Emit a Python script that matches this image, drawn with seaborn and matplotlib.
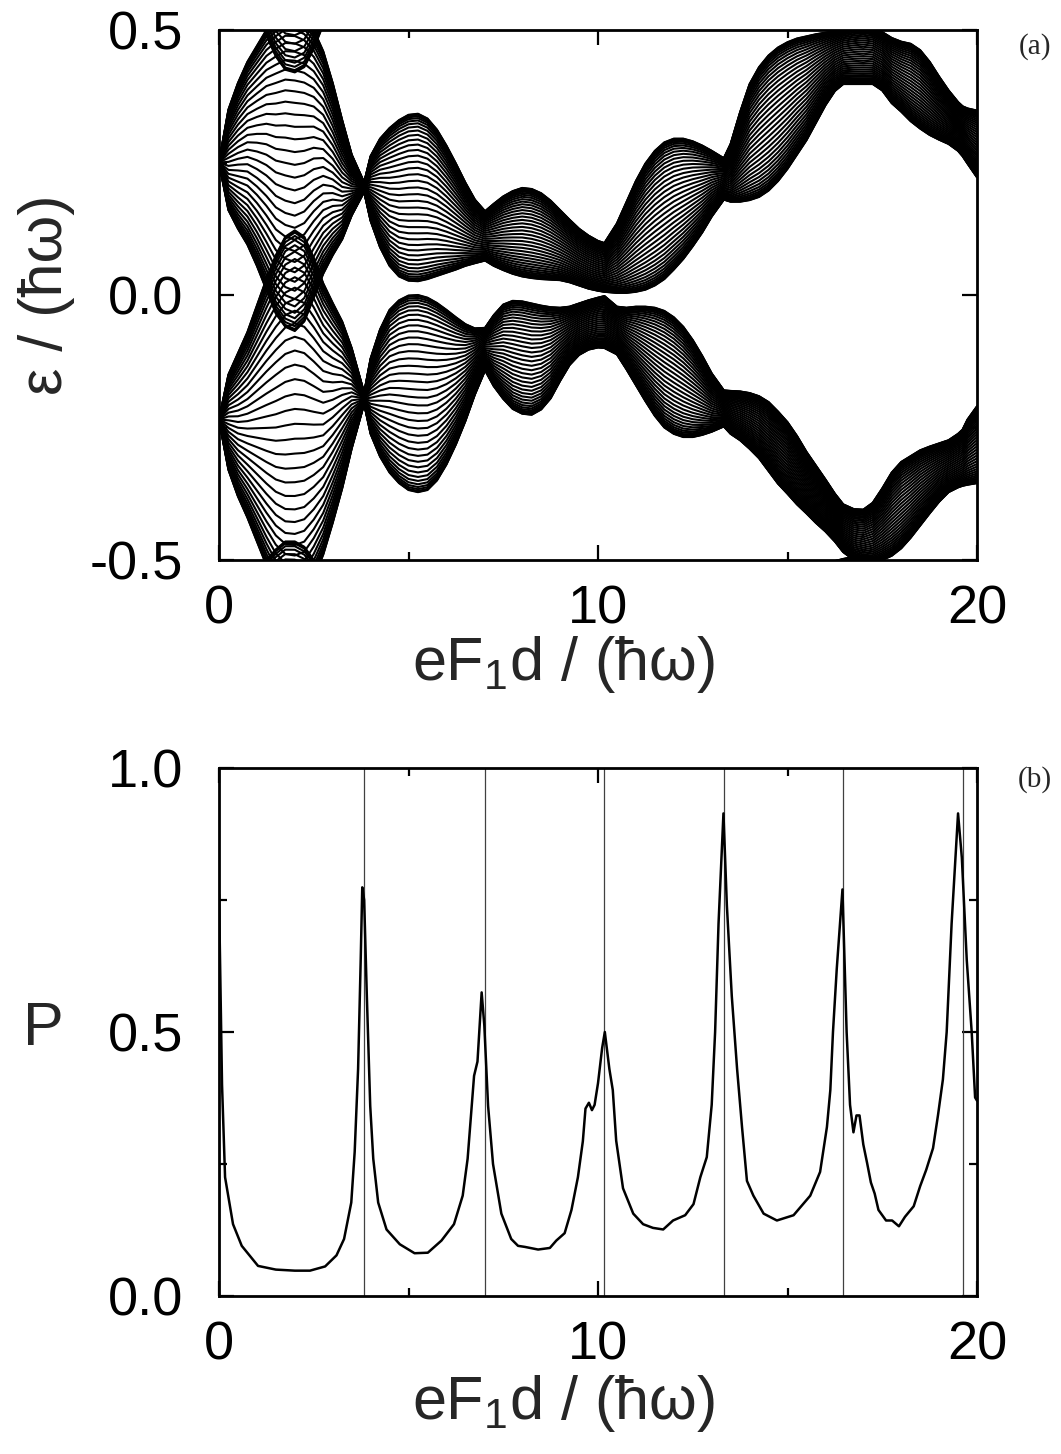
import numpy as np
import pandas as pd
import matplotlib
matplotlib.use("Agg")
import matplotlib.pyplot as plt
import seaborn as sns
from matplotlib.ticker import MultipleLocator, FormatStrFormatter

# ---------------- data ----------------
# common x grid of the quasienergy band edges, eF1d/(hbar omega)
x_grid = [0.0, 0.25, 0.5, 0.75, 1.0, 1.25, 1.5, 1.75, 2.0, 2.25, 2.5, 2.75, 3.0, 3.25, 3.5, 3.83,
          4.0, 4.25, 4.5, 4.75, 5.0, 5.25, 5.5, 5.75, 6.0, 6.25, 6.5, 6.75, 7.02,
          7.25, 7.5, 7.75, 8.0, 8.25, 8.5, 8.75, 9.0, 9.25, 9.5, 9.75, 10.0, 10.17,
          10.5, 10.75, 11.0, 11.25, 11.5, 11.75, 12.0, 12.25, 12.5, 12.75, 13.0, 13.32,
          13.5, 13.75, 14.0, 14.25, 14.5, 14.75, 15.0, 15.25, 15.5, 15.75, 16.0, 16.25, 16.47,
          16.75, 17.0, 17.25, 17.5, 17.75, 18.0, 18.25, 18.5, 18.75, 19.0, 19.25, 19.5, 19.62, 19.75, 20.0]

# upper quasienergy band: top and bottom edge (values beyond +-0.5 fold back)
upper_top = [0.250, 0.350, 0.400, 0.440, 0.470, 0.500, 0.520, 0.535, 0.535, 0.525, 0.500, 0.460, 0.400, 0.330, 0.265, 0.212,
             0.262, 0.295, 0.315, 0.330, 0.340, 0.342, 0.333, 0.312, 0.282, 0.248, 0.212, 0.180, 0.158,
             0.172, 0.186, 0.196, 0.202, 0.200, 0.192, 0.178, 0.160, 0.142, 0.125, 0.112, 0.102, 0.098,
             0.135, 0.175, 0.215, 0.248, 0.272, 0.288, 0.295, 0.295, 0.290, 0.282, 0.272, 0.258,
             0.285, 0.345, 0.398, 0.430, 0.452, 0.467, 0.477, 0.484, 0.488, 0.492, 0.495, 0.498, 0.502,
             0.506, 0.508, 0.505, 0.496, 0.485, 0.478, 0.474, 0.462, 0.440, 0.412, 0.386, 0.364, 0.356, 0.352, 0.348]
upper_bot = [0.250, 0.160, 0.125, 0.095, 0.055, 0.010, -0.035, -0.060, -0.068, -0.050, -0.005, 0.040, 0.075, 0.105, 0.150, 0.195,
             0.140, 0.090, 0.055, 0.035, 0.027, 0.026, 0.030, 0.036, 0.042, 0.048, 0.055, 0.060, 0.065,
             0.055, 0.047, 0.040, 0.035, 0.032, 0.030, 0.029, 0.028, 0.024, 0.018, 0.012, 0.008, 0.006,
             0.004, 0.004, 0.006, 0.010, 0.018, 0.030, 0.048, 0.068, 0.092, 0.118, 0.148, 0.180,
             0.176, 0.176, 0.179, 0.185, 0.197, 0.215, 0.238, 0.265, 0.292, 0.325, 0.358, 0.385, 0.398,
             0.398, 0.398, 0.398, 0.386, 0.362, 0.346, 0.328, 0.314, 0.302, 0.293, 0.285, 0.272, 0.262, 0.248, 0.222]
# lower quasienergy band: top and bottom edge
lower_top = [-0.235, -0.150, -0.110, -0.070, -0.020, 0.030, 0.075, 0.110, 0.122, 0.110, 0.070, 0.022, -0.015, -0.050, -0.100, -0.185,
             -0.120, -0.065, -0.028, -0.010, -0.001, 0.000, -0.005, -0.015, -0.028, -0.042, -0.055, -0.063, -0.062,
             -0.038, -0.018, -0.011, -0.012, -0.016, -0.020, -0.023, -0.024, -0.022, -0.016, -0.010, -0.005, -0.002,
             -0.022, -0.024, -0.022, -0.022, -0.024, -0.030, -0.042, -0.060, -0.085, -0.115, -0.148, -0.180,
             -0.181, -0.182, -0.185, -0.191, -0.202, -0.220, -0.240, -0.266, -0.296, -0.322, -0.348, -0.375, -0.395,
             -0.404, -0.405, -0.392, -0.365, -0.335, -0.315, -0.304, -0.293, -0.286, -0.280, -0.274, -0.262, -0.254, -0.235, -0.210]
lower_bot = [-0.235, -0.330, -0.380, -0.420, -0.465, -0.510, -0.550, -0.575, -0.580, -0.570, -0.535, -0.490, -0.430, -0.365, -0.290, -0.205,
             -0.262, -0.305, -0.335, -0.355, -0.368, -0.372, -0.368, -0.350, -0.320, -0.282, -0.238, -0.188, -0.142,
             -0.172, -0.196, -0.215, -0.224, -0.226, -0.216, -0.195, -0.162, -0.132, -0.113, -0.103, -0.099, -0.100,
             -0.112, -0.140, -0.170, -0.200, -0.228, -0.250, -0.262, -0.268, -0.268, -0.264, -0.258, -0.248,
             -0.262, -0.274, -0.290, -0.308, -0.332, -0.356, -0.375, -0.395, -0.412, -0.430, -0.446, -0.465, -0.485,
             -0.500, -0.505, -0.505, -0.500, -0.492, -0.478, -0.458, -0.435, -0.412, -0.390, -0.372, -0.363, -0.360, -0.358, -0.355]
# relative position of each drawn level inside its band (edges crowd together)
level_fractions = [0.0, 0.002, 0.006, 0.015, 0.026, 0.040, 0.057, 0.077, 0.100, 0.126, 0.154, 0.184,
                   0.216, 0.250, 0.286, 0.323, 0.361, 0.400, 0.440, 0.480, 0.520, 0.560, 0.600, 0.639,
                   0.677, 0.714, 0.750, 0.784, 0.816, 0.846, 0.874, 0.900, 0.923, 0.943, 0.960, 0.974,
                   0.985, 0.994, 0.998, 1.0]

# panel (b): P versus eF1d/(hbar omega)
p_x = [0.0, 0.08, 0.16, 0.37, 0.6, 1.03, 1.5, 2.0, 2.4, 2.8, 3.1, 3.3, 3.49, 3.58, 3.67, 3.74, 3.78, 3.83,
       3.9, 3.99, 4.07, 4.2, 4.42, 4.77, 5.16, 5.51, 5.87, 6.2, 6.43, 6.56, 6.73, 6.82, 6.93, 7.0,
       7.1, 7.23, 7.45, 7.71, 7.89, 8.07, 8.42, 8.73, 8.9, 9.12, 9.3, 9.47, 9.6, 9.67, 9.76, 9.84,
       9.91, 10.0, 10.11, 10.18, 10.3, 10.39, 10.48, 10.66, 10.93, 11.19, 11.45, 11.72, 11.98, 12.3,
       12.52, 12.7, 12.87, 13.0, 13.09, 13.18, 13.31, 13.4, 13.53, 13.67, 13.8, 13.93, 14.1, 14.37,
       14.72, 15.16, 15.6, 15.86, 16.04, 16.13, 16.2, 16.3, 16.45, 16.56, 16.65, 16.74, 16.82, 16.9,
       17.0, 17.1, 17.2, 17.3, 17.4, 17.6, 17.76, 17.94, 18.1, 18.33, 18.5, 18.66, 18.84, 18.97,
       19.1, 19.2, 19.33, 19.5, 19.6, 19.73, 19.86, 19.95, 20.0]
p_val = [0.76, 0.40, 0.225, 0.136, 0.095, 0.057, 0.050, 0.048, 0.048, 0.056, 0.077, 0.108, 0.177, 0.273, 0.43, 0.64, 0.774, 0.75,
         0.57, 0.36, 0.26, 0.177, 0.126, 0.098, 0.081, 0.082, 0.105, 0.136, 0.19, 0.26, 0.417, 0.444, 0.575, 0.513,
         0.36, 0.25, 0.156, 0.108, 0.095, 0.093, 0.088, 0.091, 0.105, 0.119, 0.163, 0.225, 0.293, 0.355, 0.366, 0.352,
         0.362, 0.403, 0.47, 0.50, 0.43, 0.39, 0.294, 0.204, 0.156, 0.136, 0.129, 0.126, 0.143, 0.153,
         0.174, 0.225, 0.263, 0.362, 0.50, 0.705, 0.914, 0.74, 0.568, 0.43, 0.32, 0.218, 0.19, 0.156,
         0.143, 0.153, 0.19, 0.235, 0.32, 0.39, 0.50, 0.62, 0.77, 0.50, 0.362, 0.31, 0.342, 0.342,
         0.287, 0.252, 0.215, 0.194, 0.163, 0.143, 0.143, 0.132, 0.15, 0.17, 0.208, 0.239, 0.28, 0.342,
         0.41, 0.50, 0.705, 0.914, 0.83, 0.636, 0.50, 0.376, 0.37]
# zeros of J1 marked by thin vertical lines in panel (b)
resonances = [3.83, 7.02, 10.17, 13.32, 16.47, 19.62]

# ---------------- style ----------------
sns.set_theme(style="ticks")
plt.rcParams["font.family"] = ["Liberation Sans", "DejaVu Sans"]
plt.rcParams["mathtext.default"] = "regular"
plt.rcParams["axes.unicode_minus"] = False

W, H = 1061, 1454
fig = plt.figure(figsize=(W / 100, H / 100), dpi=100)
ax1 = fig.add_axes([219 / W, 1 - 560 / H, (977 - 219) / W, 530 / H])
ax2 = fig.add_axes([219 / W, 1 - 1296 / H, (977 - 219) / W, 528 / H])

# ---------------- panel (a) ----------------
xg = np.array(x_grid)
rows = []
uid = 0
for top, bot in [(upper_top, upper_bot), (lower_top, lower_bot)]:
    top = np.array(top)
    bot = np.array(bot)
    for f in level_fractions:
        e = bot + f * (top - bot)
        for shift in (-1.0, 0.0, 1.0):
            rows.append(pd.DataFrame({"x": xg, "e": e + shift, "uid": uid}))
            uid += 1
bands = pd.concat(rows, ignore_index=True)
sns.lineplot(data=bands, x="x", y="e", units="uid", estimator=None, sort=False,
             color="black", lw=1.5, ax=ax1, legend=False)
ax1.set_xlim(0, 20)
ax1.set_ylim(-0.5, 0.5)

# ---------------- panel (b) ----------------
for z in resonances:
    ax2.axvline(z, color="0.25", lw=0.9, zorder=1)
sns.lineplot(x=p_x, y=p_val, sort=False, estimator=None, color="black", lw=1.8, ax=ax2, zorder=3)
ax2.set_xlim(0, 20)
ax2.set_ylim(0, 1.0)

# ---------------- axes cosmetics ----------------
TICK_FS = 39
LAB_FS = 44
for ax in (ax1, ax2):
    ax.xaxis.set_major_locator(MultipleLocator(10))
    ax.xaxis.set_minor_locator(MultipleLocator(5))
    ax.xaxis.set_major_formatter(FormatStrFormatter("%d"))
    ax.yaxis.set_major_locator(MultipleLocator(0.5))
    ax.yaxis.set_minor_locator(MultipleLocator(0.25))
    ax.yaxis.set_major_formatter(FormatStrFormatter("%.1f"))
    ax.tick_params(which="both", direction="in", top=True, right=True, width=1.6, colors="black")
    ax.tick_params(which="major", length=11)
    ax.tick_params(which="minor", length=6)
    ax.tick_params(axis="x", labelsize=TICK_FS, pad=18)
    ax.tick_params(axis="y", labelsize=TICK_FS, pad=26)
    for s in ax.spines.values():
        s.set_linewidth(2.0)
        s.set_color("black")
    ax.set_facecolor("white")
    ax.grid(False)

xlab = "eF$_1$d / (ħω)"
ax1.set_xlabel(xlab, fontsize=LAB_FS)
ax1.xaxis.set_label_coords(0.455, -0.14)
ax1.set_ylabel("ε / (ħω)", fontsize=LAB_FS)
ax1.yaxis.set_label_coords(-0.19, 0.5)

ax2.set_xlabel(xlab, fontsize=LAB_FS)
ax2.xaxis.set_label_coords(0.455, -0.145)
ax2.set_ylabel("P", fontsize=LAB_FS, rotation=0, va="center", ha="center")
ax2.yaxis.set_label_coords(-0.232, 0.504)

fig.text(1035 / W, 1 - 47 / H, "(a)", fontsize=21, family="Liberation Serif", ha="center", va="center")
fig.text(1035 / W, 1 - 780 / H, "(b)", fontsize=21, family="Liberation Serif", ha="center", va="center")

fig.savefig("out.png", dpi=100, facecolor="white")
